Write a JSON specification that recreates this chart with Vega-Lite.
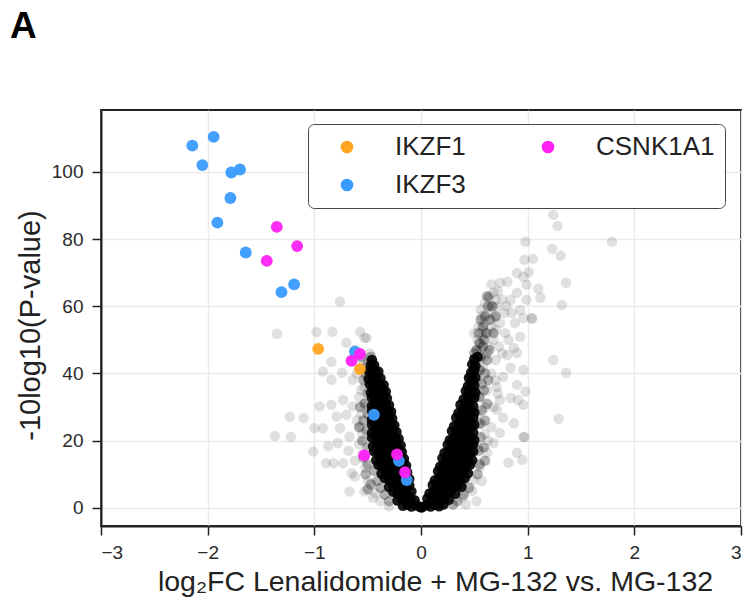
{
  "$schema": "https://vega.github.io/schema/vega-lite/v6.json",
  "autosize": "none",
  "width": 640,
  "height": 416,
  "padding": {"left": 101, "top": 110, "right": 9, "bottom": 79},
  "background": "white",
  "title": {"text": "A", "anchor": "start", "frame": "group", "dx": -91, "offset": 64, "fontSize": 37, "fontWeight": "bold", "font": "Liberation Sans", "color": "black"},
  "config": {
    "view": {"stroke": "#222", "strokeWidth": 2},
    "axis": {"labelFont": "Liberation Sans", "titleFont": "Liberation Sans", "labelFontSize": 19, "titleFontSize": 28.5, "titleFontWeight": "normal", "labelColor": "#2a2a2a", "titleColor": "#222", "domainColor": "#222", "domainWidth": 2, "tickColor": "#222", "tickWidth": 1.5, "tickSize": 9, "gridColor": "#ebebeb", "gridWidth": 1.5, "labelPadding": 7}
  },
  "datasets": {
    "sparse": [
      {"lfc": -0.76, "nlp": 61.4}, {"lfc": -0.98, "nlp": 52.3}, {"lfc": -0.83, "nlp": 52.4}, {"lfc": -0.57, "nlp": 52.4}, {"lfc": -0.53, "nlp": 50.6}, {"lfc": -0.70, "nlp": 49.1}, {"lfc": -0.51, "nlp": 50.5}, {"lfc": -0.84, "nlp": 43.5}, {"lfc": -0.92, "nlp": 40.6}, {"lfc": -0.84, "nlp": 38.1}, {"lfc": -0.74, "nlp": 40.2}, {"lfc": -0.64, "nlp": 38.1}, {"lfc": -0.95, "nlp": 30.2}, {"lfc": -0.84, "nlp": 30.7}, {"lfc": -0.73, "nlp": 32.1}, {"lfc": -1.10, "nlp": 26.7}, {"lfc": -1.00, "nlp": 23.7}, {"lfc": -0.92, "nlp": 23.7}, {"lfc": -0.79, "nlp": 27.2}, {"lfc": -0.76, "nlp": 23.7}, {"lfc": -0.70, "nlp": 27.7}, {"lfc": -1.01, "nlp": 16.8}, {"lfc": -0.87, "nlp": 18.3}, {"lfc": -0.78, "nlp": 19.3}, {"lfc": -0.67, "nlp": 21.2}, {"lfc": -0.82, "nlp": 13.3}, {"lfc": -0.89, "nlp": 13.3}, {"lfc": -0.73, "nlp": 13.3}, {"lfc": -0.65, "nlp": 10.3}, {"lfc": -0.62, "nlp": 9.3}, {"lfc": -0.67, "nlp": 4.9}, {"lfc": -0.53, "nlp": 4.9}, {"lfc": -0.43, "nlp": 4.4}, {"lfc": -0.57, "nlp": 24.2}, {"lfc": -0.64, "nlp": 30.2}, {"lfc": -0.56, "nlp": 35.1}, {"lfc": -0.49, "nlp": 38.6}, {"lfc": -0.43, "nlp": 40.6}, {"lfc": -1.35, "nlp": 51.8}, {"lfc": -1.37, "nlp": 21.4}, {"lfc": -1.22, "nlp": 21.1}, {"lfc": -1.23, "nlp": 27.1},
      {"lfc": -0.52, "nlp": 12.0}, {"lfc": -0.55, "nlp": 16.0}, {"lfc": -0.50, "nlp": 8.0}, {"lfc": -0.58, "nlp": 19.0}, {"lfc": -0.55, "nlp": 22.0}, {"lfc": -0.60, "nlp": 26.0}, {"lfc": -0.56, "nlp": 28.0}, {"lfc": -0.52, "nlp": 31.0}, {"lfc": -0.58, "nlp": 33.0}, {"lfc": -0.53, "nlp": 36.0}, {"lfc": -0.50, "nlp": 42.0}, {"lfc": -0.46, "nlp": 44.0}, {"lfc": -0.55, "nlp": 44.0}, {"lfc": -0.48, "nlp": 46.0}, {"lfc": -0.45, "nlp": 3.0}, {"lfc": -0.38, "nlp": 2.0}, {"lfc": -0.30, "nlp": 0.5}, {"lfc": -0.62, "nlp": 14.0}, {"lfc": -0.68, "nlp": 17.0}, {"lfc": -0.60, "nlp": 40.0}, {"lfc": -0.66, "nlp": 44.0}, {"lfc": -0.62, "nlp": 47.0},
      {"lfc": 1.24, "nlp": 87.2}, {"lfc": 1.28, "nlp": 83.9}, {"lfc": 1.79, "nlp": 79.2}, {"lfc": 0.98, "nlp": 79.2}, {"lfc": 1.23, "nlp": 77.1}, {"lfc": 1.31, "nlp": 75.0}, {"lfc": 0.97, "nlp": 73.8}, {"lfc": 1.05, "nlp": 74.1}, {"lfc": 1.01, "nlp": 70.2}, {"lfc": 0.90, "nlp": 69.9}, {"lfc": 1.36, "nlp": 67.0}, {"lfc": 1.10, "nlp": 65.2}, {"lfc": 1.12, "nlp": 62.5}, {"lfc": 1.32, "nlp": 60.4}, {"lfc": 1.04, "nlp": 56.3}, {"lfc": 1.24, "nlp": 44.0}, {"lfc": 1.36, "nlp": 40.2}, {"lfc": 1.29, "nlp": 26.5}, {"lfc": 0.97, "nlp": 21.1},
      {"lfc": 0.82, "nlp": 13.4}, {"lfc": 0.95, "nlp": 14.3}, {"lfc": 0.90, "nlp": 16.4}, {"lfc": 0.96, "nlp": 21.1}, {"lfc": 0.87, "nlp": 25.2}, {"lfc": 0.77, "nlp": 26.8}, {"lfc": 0.96, "nlp": 30.7}, {"lfc": 0.91, "nlp": 32.1}, {"lfc": 0.98, "nlp": 34.6}, {"lfc": 0.84, "nlp": 32.7}, {"lfc": 0.90, "nlp": 36.6}, {"lfc": 0.96, "nlp": 41.1}, {"lfc": 0.84, "nlp": 41.7}, {"lfc": 0.90, "nlp": 46.1}, {"lfc": 0.93, "nlp": 50.9}, {"lfc": 1.04, "nlp": 56.5}, {"lfc": 0.96, "nlp": 56.5}, {"lfc": 0.93, "nlp": 58.9}, {"lfc": 0.99, "nlp": 61.9}, {"lfc": 0.84, "nlp": 61.9}, {"lfc": 0.90, "nlp": 64.0}, {"lfc": 0.99, "nlp": 66.4}, {"lfc": 0.96, "nlp": 68.8}, {"lfc": 0.81, "nlp": 67.3}, {"lfc": 0.74, "nlp": 67.0}, {"lfc": 0.63, "nlp": 62.5}, {"lfc": 0.71, "nlp": 59.8}, {"lfc": 0.69, "nlp": 56.8}, {"lfc": 0.79, "nlp": 52.0}, {"lfc": 0.87, "nlp": 47.6}, {"lfc": 0.81, "nlp": 45.5}, {"lfc": 0.77, "nlp": 39.0}, {"lfc": 0.71, "nlp": 36.0}, {"lfc": 0.74, "nlp": 32.1}, {"lfc": 0.71, "nlp": 29.2}, {"lfc": 0.74, "nlp": 22.3}, {"lfc": 0.68, "nlp": 19.3}, {"lfc": 0.62, "nlp": 16.4}, {"lfc": 0.55, "nlp": 12.2}, {"lfc": 0.49, "nlp": 8.3}, {"lfc": 0.39, "nlp": 3.3},
      {"lfc": 0.52, "nlp": 47.0}, {"lfc": 0.55, "nlp": 49.0}, {"lfc": 0.58, "nlp": 51.0}, {"lfc": 0.50, "nlp": 52.0}, {"lfc": 0.54, "nlp": 54.0}, {"lfc": 0.60, "nlp": 55.0}, {"lfc": 0.57, "nlp": 57.0}, {"lfc": 0.62, "nlp": 58.0}, {"lfc": 0.66, "nlp": 60.0}, {"lfc": 0.60, "nlp": 61.0}, {"lfc": 0.56, "nlp": 59.0}, {"lfc": 0.64, "nlp": 63.0}, {"lfc": 0.68, "nlp": 64.0}, {"lfc": 0.70, "nlp": 62.0}, {"lfc": 0.72, "nlp": 64.5}, {"lfc": 0.66, "nlp": 66.5}, {"lfc": 0.62, "nlp": 52.0}, {"lfc": 0.66, "nlp": 54.0}, {"lfc": 0.70, "nlp": 53.0}, {"lfc": 0.64, "nlp": 48.0}, {"lfc": 0.68, "nlp": 50.0}, {"lfc": 0.73, "nlp": 48.0}, {"lfc": 0.60, "nlp": 45.0}, {"lfc": 0.55, "nlp": 44.0}, {"lfc": 0.58, "nlp": 42.0}, {"lfc": 0.62, "nlp": 46.0}, {"lfc": 0.74, "nlp": 55.0}, {"lfc": 0.78, "nlp": 58.0}, {"lfc": 0.76, "nlp": 62.0}, {"lfc": 0.80, "nlp": 60.0}, {"lfc": 0.85, "nlp": 58.0}, {"lfc": 0.88, "nlp": 55.0}, {"lfc": 0.82, "nlp": 50.0}, {"lfc": 0.76, "nlp": 46.0}, {"lfc": 0.70, "nlp": 44.0}, {"lfc": 0.66, "nlp": 40.0}, {"lfc": 0.70, "nlp": 38.0}, {"lfc": 0.56, "nlp": 47.0}, {"lfc": 0.58, "nlp": 53.0}, {"lfc": 0.53, "nlp": 50.0}, {"lfc": 0.56, "nlp": 41.0}, {"lfc": 0.60, "nlp": 30.0}, {"lfc": 0.57, "nlp": 25.0}, {"lfc": 0.60, "nlp": 22.0}, {"lfc": 0.54, "nlp": 18.0}, {"lfc": 0.63, "nlp": 20.0}, {"lfc": 0.66, "nlp": 24.0}, {"lfc": 0.68, "nlp": 30.0}, {"lfc": 0.72, "nlp": 34.0}, {"lfc": 0.62, "nlp": 35.0}, {"lfc": 0.53, "nlp": 28.0}, {"lfc": 0.55, "nlp": 33.0}, {"lfc": 0.53, "nlp": 38.0}, {"lfc": 0.57, "nlp": 8.0}, {"lfc": 0.48, "nlp": 5.0}, {"lfc": 0.52, "nlp": 2.0}, {"lfc": 0.42, "nlp": 1.0}, {"lfc": 0.45, "nlp": 38.0}
    ],
    "mid": [
      {"lfc": -0.50, "nlp": 5.5}, {"lfc": -0.47, "nlp": 7.0}, {"lfc": -0.52, "nlp": 10.0}, {"lfc": -0.50, "nlp": 13.0}, {"lfc": -0.54, "nlp": 15.0}, {"lfc": -0.50, "nlp": 18.0}, {"lfc": -0.55, "nlp": 20.0}, {"lfc": -0.51, "nlp": 23.0}, {"lfc": -0.54, "nlp": 26.0}, {"lfc": -0.50, "nlp": 28.0}, {"lfc": -0.53, "nlp": 31.0}, {"lfc": -0.50, "nlp": 34.0}, {"lfc": -0.54, "nlp": 38.0}, {"lfc": -0.52, "nlp": 40.0}, {"lfc": -0.50, "nlp": 43.0}, {"lfc": -0.47, "nlp": 45.0}, {"lfc": -0.44, "nlp": 42.0}, {"lfc": -0.56, "nlp": 45.0}, {"lfc": -0.58, "nlp": 24.0}, {"lfc": -0.57, "nlp": 30.0}, {"lfc": -0.30, "nlp": 2.0}, {"lfc": -0.34, "nlp": 4.0}, {"lfc": -0.38, "nlp": 6.0}, {"lfc": -0.41, "nlp": 8.0}, {"lfc": -0.44, "nlp": 11.0},
      {"lfc": 0.53, "nlp": 10.0}, {"lfc": 0.55, "nlp": 13.0}, {"lfc": 0.54, "nlp": 17.0}, {"lfc": 0.56, "nlp": 21.0}, {"lfc": 0.55, "nlp": 25.0}, {"lfc": 0.57, "nlp": 29.0}, {"lfc": 0.55, "nlp": 33.0}, {"lfc": 0.57, "nlp": 37.0}, {"lfc": 0.55, "nlp": 41.0}, {"lfc": 0.56, "nlp": 45.0}, {"lfc": 0.52, "nlp": 47.0}, {"lfc": 0.55, "nlp": 49.0}, {"lfc": 0.50, "nlp": 46.0}, {"lfc": 0.58, "nlp": 48.0}, {"lfc": 0.54, "nlp": 52.0}, {"lfc": 0.58, "nlp": 54.0}, {"lfc": 0.61, "nlp": 52.0}, {"lfc": 0.60, "nlp": 57.0}, {"lfc": 0.63, "nlp": 60.0}, {"lfc": 0.56, "nlp": 56.0}, {"lfc": 0.65, "nlp": 56.0}, {"lfc": 0.67, "nlp": 60.0}, {"lfc": 0.62, "nlp": 63.0}, {"lfc": 0.59, "nlp": 50.0}, {"lfc": 0.62, "nlp": 44.0}, {"lfc": 0.60, "nlp": 40.0}, {"lfc": 0.59, "nlp": 35.0}, {"lfc": 0.60, "nlp": 26.0}, {"lfc": 0.59, "nlp": 18.0}, {"lfc": 0.45, "nlp": 6.0}, {"lfc": 0.40, "nlp": 4.0}, {"lfc": 0.34, "nlp": 2.0}, {"lfc": 0.30, "nlp": 1.0}, {"lfc": 0.60, "nlp": 14.0}, {"lfc": 0.62, "nlp": 31.0}, {"lfc": 0.63, "nlp": 38.0}, {"lfc": 0.64, "nlp": 47.0}, {"lfc": 0.70, "nlp": 57.0}, {"lfc": 0.68, "nlp": 52.0}
    ],
    "core": [
      {"lfc": 0.0, "nlp": 0.2}, {"lfc": -0.01, "nlp": 0.3}, {"lfc": -0.05, "nlp": 0.8}, {"lfc": -0.09, "nlp": 0.4}, {"lfc": -0.13, "nlp": 1.0}, {"lfc": -0.17, "nlp": 0.6},
      {"lfc": -0.22, "nlp": 2.2}, {"lfc": -0.18, "nlp": 2.8}, {"lfc": -0.14, "nlp": 2.4}, {"lfc": -0.10, "nlp": 2.9}, {"lfc": -0.06, "nlp": 2.3},
      {"lfc": -0.26, "nlp": 4.8}, {"lfc": -0.22, "nlp": 4.2}, {"lfc": -0.18, "nlp": 4.7}, {"lfc": -0.14, "nlp": 4.3}, {"lfc": -0.09, "nlp": 4.9},
      {"lfc": -0.30, "nlp": 6.2}, {"lfc": -0.26, "nlp": 6.9}, {"lfc": -0.22, "nlp": 6.4}, {"lfc": -0.18, "nlp": 6.8}, {"lfc": -0.15, "nlp": 6.1}, {"lfc": -0.11, "nlp": 6.7},
      {"lfc": -0.34, "nlp": 8.9}, {"lfc": -0.30, "nlp": 8.2}, {"lfc": -0.26, "nlp": 8.7}, {"lfc": -0.22, "nlp": 8.3}, {"lfc": -0.18, "nlp": 8.9}, {"lfc": -0.14, "nlp": 8.4}, {"lfc": -0.11, "nlp": 8.6},
      {"lfc": -0.37, "nlp": 10.2}, {"lfc": -0.33, "nlp": 10.8}, {"lfc": -0.29, "nlp": 10.3}, {"lfc": -0.25, "nlp": 10.9}, {"lfc": -0.21, "nlp": 10.4}, {"lfc": -0.16, "nlp": 10.7}, {"lfc": -0.13, "nlp": 10.6},
      {"lfc": -0.40, "nlp": 12.8}, {"lfc": -0.36, "nlp": 12.2}, {"lfc": -0.32, "nlp": 12.7}, {"lfc": -0.28, "nlp": 12.3}, {"lfc": -0.24, "nlp": 12.9}, {"lfc": -0.21, "nlp": 12.4}, {"lfc": -0.17, "nlp": 12.6}, {"lfc": -0.14, "nlp": 12.6},
      {"lfc": -0.42, "nlp": 14.2}, {"lfc": -0.38, "nlp": 14.9}, {"lfc": -0.34, "nlp": 14.4}, {"lfc": -0.30, "nlp": 14.8}, {"lfc": -0.27, "nlp": 14.1}, {"lfc": -0.23, "nlp": 14.6}, {"lfc": -0.19, "nlp": 14.3}, {"lfc": -0.16, "nlp": 14.6},
      {"lfc": -0.44, "nlp": 16.8}, {"lfc": -0.40, "nlp": 16.3}, {"lfc": -0.36, "nlp": 16.9}, {"lfc": -0.32, "nlp": 16.2}, {"lfc": -0.28, "nlp": 16.7}, {"lfc": -0.25, "nlp": 16.4}, {"lfc": -0.21, "nlp": 16.9}, {"lfc": -0.18, "nlp": 16.6},
      {"lfc": -0.45, "nlp": 18.3}, {"lfc": -0.41, "nlp": 18.8}, {"lfc": -0.37, "nlp": 18.2}, {"lfc": -0.33, "nlp": 18.9}, {"lfc": -0.29, "nlp": 18.4}, {"lfc": -0.26, "nlp": 18.7}, {"lfc": -0.22, "nlp": 18.2}, {"lfc": -0.19, "nlp": 18.6},
      {"lfc": -0.46, "nlp": 20.9}, {"lfc": -0.42, "nlp": 20.3}, {"lfc": -0.38, "nlp": 20.7}, {"lfc": -0.35, "nlp": 20.2}, {"lfc": -0.31, "nlp": 20.8}, {"lfc": -0.27, "nlp": 20.4}, {"lfc": -0.24, "nlp": 20.6}, {"lfc": -0.21, "nlp": 20.6},
      {"lfc": -0.46, "nlp": 22.3}, {"lfc": -0.42, "nlp": 22.8}, {"lfc": -0.38, "nlp": 22.2}, {"lfc": -0.34, "nlp": 22.9}, {"lfc": -0.30, "nlp": 22.4}, {"lfc": -0.26, "nlp": 22.7}, {"lfc": -0.23, "nlp": 22.6},
      {"lfc": -0.46, "nlp": 24.8}, {"lfc": -0.42, "nlp": 24.2}, {"lfc": -0.39, "nlp": 24.9}, {"lfc": -0.35, "nlp": 24.3}, {"lfc": -0.31, "nlp": 24.7}, {"lfc": -0.28, "nlp": 24.4}, {"lfc": -0.25, "nlp": 24.6},
      {"lfc": -0.46, "nlp": 26.2}, {"lfc": -0.42, "nlp": 26.9}, {"lfc": -0.38, "nlp": 26.3}, {"lfc": -0.34, "nlp": 26.8}, {"lfc": -0.30, "nlp": 26.4}, {"lfc": -0.27, "nlp": 26.6},
      {"lfc": -0.46, "nlp": 28.9}, {"lfc": -0.42, "nlp": 28.3}, {"lfc": -0.39, "nlp": 28.7}, {"lfc": -0.35, "nlp": 28.2}, {"lfc": -0.31, "nlp": 28.8}, {"lfc": -0.28, "nlp": 28.6},
      {"lfc": -0.46, "nlp": 30.3}, {"lfc": -0.43, "nlp": 30.8}, {"lfc": -0.40, "nlp": 30.2}, {"lfc": -0.36, "nlp": 30.9}, {"lfc": -0.33, "nlp": 30.4}, {"lfc": -0.30, "nlp": 30.6},
      {"lfc": -0.46, "nlp": 32.8}, {"lfc": -0.43, "nlp": 32.2}, {"lfc": -0.39, "nlp": 32.7}, {"lfc": -0.35, "nlp": 32.4}, {"lfc": -0.32, "nlp": 32.6},
      {"lfc": -0.47, "nlp": 34.2}, {"lfc": -0.44, "nlp": 34.9}, {"lfc": -0.40, "nlp": 34.4}, {"lfc": -0.36, "nlp": 34.7}, {"lfc": -0.33, "nlp": 34.6},
      {"lfc": -0.48, "nlp": 36.8}, {"lfc": -0.45, "nlp": 36.2}, {"lfc": -0.41, "nlp": 36.7}, {"lfc": -0.38, "nlp": 36.3}, {"lfc": -0.35, "nlp": 36.6},
      {"lfc": -0.49, "nlp": 38.3}, {"lfc": -0.45, "nlp": 38.9}, {"lfc": -0.42, "nlp": 38.4}, {"lfc": -0.38, "nlp": 38.6},
      {"lfc": -0.49, "nlp": 40.8}, {"lfc": -0.46, "nlp": 40.2}, {"lfc": -0.43, "nlp": 40.7}, {"lfc": -0.40, "nlp": 40.6},
      {"lfc": -0.47, "nlp": 42.5}, {"lfc": -0.44, "nlp": 42.5}, {"lfc": -0.46, "nlp": 44.0},
      {"lfc": 0.01, "nlp": 0.2}, {"lfc": 0.05, "nlp": 0.8}, {"lfc": 0.09, "nlp": 0.4}, {"lfc": 0.13, "nlp": 0.9}, {"lfc": 0.17, "nlp": 0.5}, {"lfc": 0.21, "nlp": 1.0},
      {"lfc": 0.06, "nlp": 2.8}, {"lfc": 0.10, "nlp": 2.3}, {"lfc": 0.14, "nlp": 2.9}, {"lfc": 0.18, "nlp": 2.2}, {"lfc": 0.22, "nlp": 2.7}, {"lfc": 0.26, "nlp": 2.4},
      {"lfc": 0.08, "nlp": 4.3}, {"lfc": 0.12, "nlp": 4.8}, {"lfc": 0.16, "nlp": 4.2}, {"lfc": 0.20, "nlp": 4.9}, {"lfc": 0.24, "nlp": 4.4}, {"lfc": 0.28, "nlp": 4.7}, {"lfc": 0.32, "nlp": 4.2},
      {"lfc": 0.11, "nlp": 6.8}, {"lfc": 0.15, "nlp": 6.3}, {"lfc": 0.19, "nlp": 6.9}, {"lfc": 0.23, "nlp": 6.2}, {"lfc": 0.27, "nlp": 6.7}, {"lfc": 0.31, "nlp": 6.4}, {"lfc": 0.35, "nlp": 6.9}, {"lfc": 0.38, "nlp": 6.3},
      {"lfc": 0.13, "nlp": 8.2}, {"lfc": 0.17, "nlp": 8.8}, {"lfc": 0.21, "nlp": 8.3}, {"lfc": 0.25, "nlp": 8.9}, {"lfc": 0.29, "nlp": 8.4}, {"lfc": 0.33, "nlp": 8.7}, {"lfc": 0.37, "nlp": 8.2}, {"lfc": 0.41, "nlp": 8.8},
      {"lfc": 0.16, "nlp": 10.9}, {"lfc": 0.20, "nlp": 10.3}, {"lfc": 0.24, "nlp": 10.8}, {"lfc": 0.28, "nlp": 10.2}, {"lfc": 0.32, "nlp": 10.7}, {"lfc": 0.36, "nlp": 10.4}, {"lfc": 0.40, "nlp": 10.9}, {"lfc": 0.44, "nlp": 10.3},
      {"lfc": 0.18, "nlp": 12.3}, {"lfc": 0.22, "nlp": 12.9}, {"lfc": 0.26, "nlp": 12.4}, {"lfc": 0.30, "nlp": 12.8}, {"lfc": 0.34, "nlp": 12.2}, {"lfc": 0.38, "nlp": 12.7}, {"lfc": 0.42, "nlp": 12.3}, {"lfc": 0.46, "nlp": 12.8},
      {"lfc": 0.20, "nlp": 14.8}, {"lfc": 0.24, "nlp": 14.2}, {"lfc": 0.28, "nlp": 14.7}, {"lfc": 0.32, "nlp": 14.3}, {"lfc": 0.36, "nlp": 14.9}, {"lfc": 0.40, "nlp": 14.4}, {"lfc": 0.44, "nlp": 14.8}, {"lfc": 0.48, "nlp": 14.2},
      {"lfc": 0.22, "nlp": 16.3}, {"lfc": 0.26, "nlp": 16.8}, {"lfc": 0.30, "nlp": 16.2}, {"lfc": 0.34, "nlp": 16.9}, {"lfc": 0.38, "nlp": 16.4}, {"lfc": 0.42, "nlp": 16.7}, {"lfc": 0.46, "nlp": 16.2}, {"lfc": 0.49, "nlp": 16.8},
      {"lfc": 0.25, "nlp": 18.8}, {"lfc": 0.29, "nlp": 18.3}, {"lfc": 0.33, "nlp": 18.9}, {"lfc": 0.37, "nlp": 18.2}, {"lfc": 0.41, "nlp": 18.7}, {"lfc": 0.45, "nlp": 18.4}, {"lfc": 0.49, "nlp": 18.9},
      {"lfc": 0.27, "nlp": 20.2}, {"lfc": 0.31, "nlp": 20.8}, {"lfc": 0.35, "nlp": 20.3}, {"lfc": 0.39, "nlp": 20.9}, {"lfc": 0.43, "nlp": 20.4}, {"lfc": 0.47, "nlp": 20.7}, {"lfc": 0.50, "nlp": 20.2},
      {"lfc": 0.29, "nlp": 22.9}, {"lfc": 0.33, "nlp": 22.3}, {"lfc": 0.37, "nlp": 22.8}, {"lfc": 0.41, "nlp": 22.2}, {"lfc": 0.45, "nlp": 22.7}, {"lfc": 0.49, "nlp": 22.4},
      {"lfc": 0.31, "nlp": 24.3}, {"lfc": 0.35, "nlp": 24.8}, {"lfc": 0.39, "nlp": 24.2}, {"lfc": 0.43, "nlp": 24.9}, {"lfc": 0.47, "nlp": 24.4}, {"lfc": 0.50, "nlp": 24.7},
      {"lfc": 0.33, "nlp": 26.8}, {"lfc": 0.37, "nlp": 26.2}, {"lfc": 0.41, "nlp": 26.7}, {"lfc": 0.45, "nlp": 26.3}, {"lfc": 0.49, "nlp": 26.9},
      {"lfc": 0.35, "nlp": 28.2}, {"lfc": 0.39, "nlp": 28.8}, {"lfc": 0.43, "nlp": 28.3}, {"lfc": 0.47, "nlp": 28.9}, {"lfc": 0.50, "nlp": 28.4},
      {"lfc": 0.37, "nlp": 30.7}, {"lfc": 0.41, "nlp": 30.2}, {"lfc": 0.45, "nlp": 30.8}, {"lfc": 0.49, "nlp": 30.3},
      {"lfc": 0.40, "nlp": 32.3}, {"lfc": 0.44, "nlp": 32.9}, {"lfc": 0.47, "nlp": 32.4}, {"lfc": 0.50, "nlp": 32.8},
      {"lfc": 0.42, "nlp": 34.8}, {"lfc": 0.45, "nlp": 34.2}, {"lfc": 0.48, "nlp": 34.7}, {"lfc": 0.51, "nlp": 34.3},
      {"lfc": 0.44, "nlp": 36.2}, {"lfc": 0.47, "nlp": 36.9}, {"lfc": 0.50, "nlp": 36.4},
      {"lfc": 0.45, "nlp": 38.7}, {"lfc": 0.48, "nlp": 38.2}, {"lfc": 0.51, "nlp": 38.8},
      {"lfc": 0.47, "nlp": 40.3}, {"lfc": 0.50, "nlp": 40.9},
      {"lfc": 0.48, "nlp": 42.7}, {"lfc": 0.51, "nlp": 42.2},
      {"lfc": 0.50, "nlp": 44.3}, {"lfc": 0.53, "nlp": 44.9}
    ],
    "hits": [
      {"lfc": -2.144, "nlp": 107.8, "protein": "IKZF3"}, {"lfc": -1.944, "nlp": 110.4, "protein": "IKZF3"}, {"lfc": -2.05, "nlp": 102.0, "protein": "IKZF3"}, {"lfc": -1.778, "nlp": 99.8, "protein": "IKZF3"}, {"lfc": -1.697, "nlp": 100.7, "protein": "IKZF3"}, {"lfc": -1.787, "nlp": 92.2, "protein": "IKZF3"}, {"lfc": -1.909, "nlp": 84.9, "protein": "IKZF3"}, {"lfc": -1.643, "nlp": 76.0, "protein": "IKZF3"}, {"lfc": -1.19, "nlp": 66.5, "protein": "IKZF3"}, {"lfc": -1.308, "nlp": 64.2, "protein": "IKZF3"}, {"lfc": -0.62, "nlp": 46.5, "protein": "IKZF3"}, {"lfc": -0.441, "nlp": 27.7, "protein": "IKZF3"}, {"lfc": -0.207, "nlp": 14.0, "protein": "IKZF3"}, {"lfc": -0.134, "nlp": 8.3, "protein": "IKZF3"},
      {"lfc": -0.964, "nlp": 47.3, "protein": "IKZF1"}, {"lfc": -0.573, "nlp": 41.3, "protein": "IKZF1"},
      {"lfc": -1.352, "nlp": 83.6, "protein": "CSNK1A1"}, {"lfc": -1.161, "nlp": 77.9, "protein": "CSNK1A1"}, {"lfc": -1.446, "nlp": 73.5, "protein": "CSNK1A1"}, {"lfc": -0.573, "nlp": 45.8, "protein": "CSNK1A1"}, {"lfc": -0.651, "nlp": 43.75, "protein": "CSNK1A1"}, {"lfc": -0.532, "nlp": 15.6, "protein": "CSNK1A1"}, {"lfc": -0.225, "nlp": 15.9, "protein": "CSNK1A1"}, {"lfc": -0.15, "nlp": 10.6, "protein": "CSNK1A1"}
    ]
  },
  "encoding": {
    "x": {"field": "lfc", "type": "quantitative", "scale": {"domain": [-3, 3], "nice": false, "zero": false}, "axis": {"values": [-3, -2, -1, 0, 1, 2, 3], "title": "log₂FC Lenalidomide + MG-132 vs. MG-132", "titleX": 334, "titlePadding": 5, "labelPadding": 8}},
    "y": {"field": "nlp", "type": "quantitative", "scale": {"domain": [-5.4, 118.4], "nice": false, "zero": false}, "axis": {"values": [0, 20, 40, 60, 80, 100], "title": "-10log10(P-value)", "titleFontSize": 29, "titleY": 215, "titlePadding": 6, "labelPadding": 9}}
  },
  "layer": [
    {"data": {"name": "sparse"}, "mark": {"type": "circle", "size": 110, "color": "black", "opacity": 0.12}},
    {"data": {"name": "mid"}, "mark": {"type": "circle", "size": 110, "color": "black", "opacity": 0.3}},
    {"data": {"name": "core"}, "mark": {"type": "circle", "size": 110, "color": "black", "opacity": 0.9}},
    {"data": {"name": "hits"}, "mark": {"type": "circle", "size": 140, "opacity": 0.95},
     "encoding": {"color": {"field": "protein", "type": "nominal", "scale": {"domain": ["IKZF1", "CSNK1A1", "IKZF3"], "range": ["#ffa51f", "#ff20f5", "#3a9bff"]},
       "legend": {"title": null, "orient": "none", "legendX": 207, "legendY": 14, "columns": 2, "direction": "horizontal", "symbolType": "circle", "symbolSize": 160, "symbolOpacity": 1, "symbolStrokeWidth": 0, "labelFont": "Liberation Sans", "labelFontSize": 26, "labelColor": "#222", "labelOffset": 35, "symbolOffset": 16, "columnPadding": 53, "rowPadding": 12, "padding": 10, "strokeColor": "#444", "cornerRadius": 6, "fillColor": "white", "labelLimit": 300}}}}
  ]
}
